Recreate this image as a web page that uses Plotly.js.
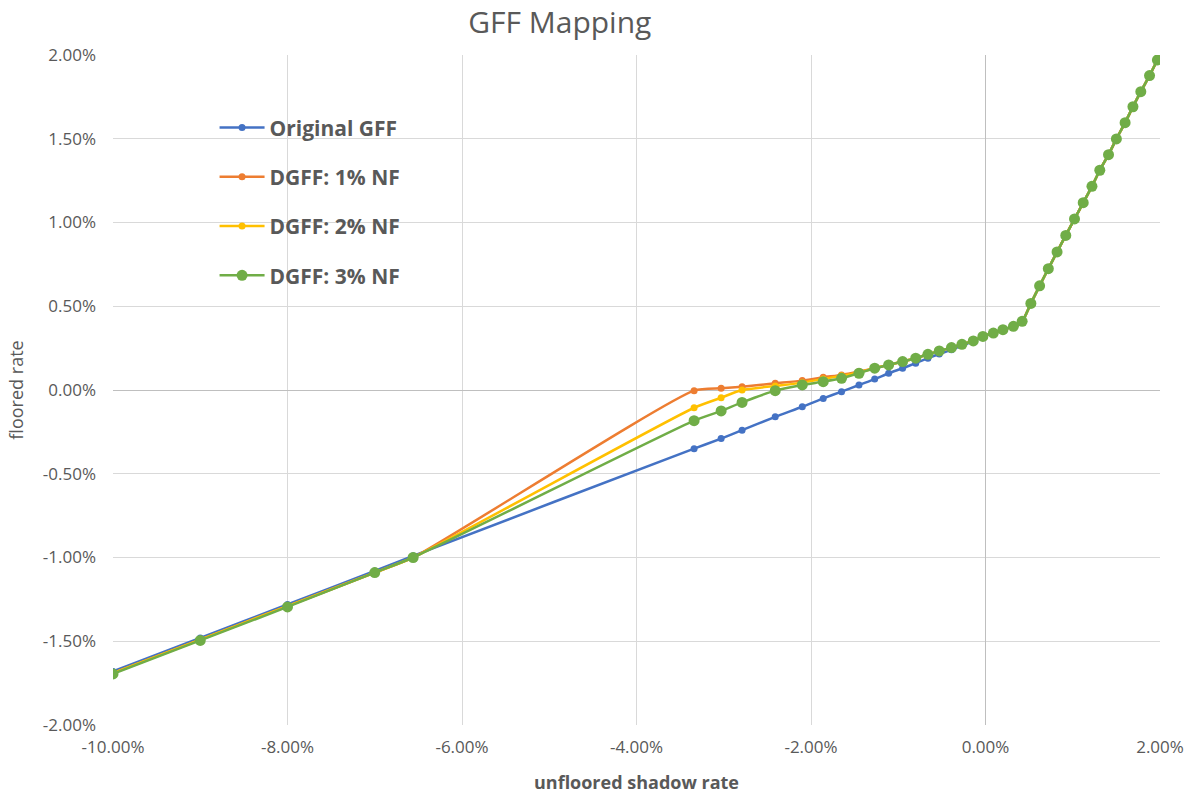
<!DOCTYPE html>
<html>
<head>
<meta charset="utf-8">
<script src="https://cdn.plot.ly/plotly-3.0.1.min.js"></script>
<style>
  html, body { margin: 0; padding: 0; background: #ffffff; }
  #chart { width: 1186px; height: 794px; }
</style>
</head>
<body>
<div id="chart"></div>
<script>
// unfloored shadow rate (%), shared by all series
const shadowRate = [-10, -9, -8, -7, -6.56, -3.34, -3.03, -2.79, -2.41, -2.10, -1.86, -1.65, -1.45, -1.27, -1.11, -0.95, -0.80, -0.66, -0.53, -0.39, -0.27, -0.14, -0.03, 0.09, 0.20, 0.32, 0.42, 0.52, 0.62, 0.72, 0.82, 0.92, 1.02, 1.12, 1.22, 1.31, 1.41, 1.50, 1.60, 1.69, 1.78, 1.88, 1.97];

// floored rate (%) per series
const originalGFF = [-1.68, -1.48, -1.28, -1.08, -0.99, -0.35, -0.29, -0.24, -0.16, -0.10, -0.05, -0.01, 0.03, 0.065, 0.10, 0.13, 0.16, 0.19, 0.215, 0.24, 0.265, 0.29, 0.32, 0.34, 0.36, 0.38, 0.41, 0.517, 0.622, 0.724, 0.824, 0.923, 1.021, 1.118, 1.216, 1.312, 1.405, 1.499, 1.596, 1.691, 1.781, 1.877, 1.97];
const dgff1 = [-1.69, -1.49, -1.29, -1.09, -1.00, -0.004, 0.01, 0.02, 0.04, 0.056, 0.076, 0.09, 0.11, 0.13, 0.15, 0.17, 0.19, 0.213, 0.233, 0.253, 0.273, 0.293, 0.32, 0.34, 0.36, 0.38, 0.41, 0.517, 0.622, 0.724, 0.824, 0.923, 1.021, 1.118, 1.216, 1.312, 1.405, 1.499, 1.596, 1.691, 1.781, 1.877, 1.97];
const dgff2 = [-1.69, -1.49, -1.29, -1.09, -1.00, -0.106, -0.046, 0.0, 0.024, 0.044, 0.066, 0.085, 0.105, 0.13, 0.15, 0.17, 0.19, 0.213, 0.233, 0.253, 0.273, 0.293, 0.32, 0.34, 0.36, 0.38, 0.41, 0.517, 0.622, 0.724, 0.824, 0.923, 1.021, 1.118, 1.216, 1.312, 1.405, 1.499, 1.596, 1.691, 1.781, 1.877, 1.97];
const dgff3 = [-1.695, -1.495, -1.295, -1.09, -1.00, -0.183, -0.125, -0.074, -0.004, 0.03, 0.05, 0.07, 0.10, 0.13, 0.15, 0.17, 0.19, 0.213, 0.233, 0.253, 0.273, 0.293, 0.32, 0.34, 0.36, 0.38, 0.41, 0.517, 0.622, 0.724, 0.824, 0.923, 1.021, 1.118, 1.216, 1.312, 1.405, 1.499, 1.596, 1.691, 1.781, 1.877, 1.97];

// axis ticks
const xTickVals = [-10, -8, -6, -4, -2, 0, 2];
const xTickText = ['-10.00%', '-8.00%', '-6.00%', '-4.00%', '-2.00%', '0.00%', '2.00%'];
const yTickVals = [-2, -1.5, -1, -0.5, 0, 0.5, 1, 1.5, 2];
const yTickText = ['-2.00%', '-1.50%', '-1.00%', '-0.50%', '0.00%', '0.50%', '1.00%', '1.50%', '2.00%'];

const seriesNames = ['Original GFF', 'DGFF: 1% NF', 'DGFF: 2% NF', 'DGFF: 3% NF'];
const seriesValues = [originalGFF, dgff1, dgff2, dgff3];
const seriesColors = ['#4472C4', '#ED7D31', '#FFC000', '#70AD47'];
const markerSizes = [7, 7, 7, 11];

const traces = seriesNames.map((name, i) => ({
  type: 'scatter',
  mode: 'lines+markers',
  name: name,
  legendgroup: 'g' + i,
  x: shadowRate,
  y: seriesValues[i],
  line: { color: seriesColors[i], width: 2.5, shape: 'spline', smoothing: 0.6 },
  marker: { color: seriesColors[i], size: markerSizes[i], line: { width: 0 } },
  hoverinfo: 'x+y+name'
}));

const fontFam = '"Open Sans", "Liberation Sans", sans-serif';
const grey = '#595959';

const layout = {
  width: 1186,
  height: 794,
  paper_bgcolor: '#ffffff',
  plot_bgcolor: '#ffffff',
  margin: { l: 113, r: 26, t: 55, b: 69 },
  font: { family: fontFam, color: grey, size: 16 },
  title: {
    text: 'GFF Mapping',
    font: { family: fontFam, size: 30, color: grey },
    x: 0.472, xanchor: 'center', xref: 'container',
    y: 0.972, yanchor: 'middle', yref: 'container'
  },
  xaxis: {
    range: [-10, 2],
    tickmode: 'array',
    tickvals: xTickVals,
    ticktext: xTickText,
    showgrid: true,
    gridcolor: '#D9D9D9',
    gridwidth: 1,
    zeroline: true,
    zerolinecolor: '#BFBFBF',
    zerolinewidth: 1,
    showline: false,
    ticks: '',
    ticklabelstandoff: 10,
    tickfont: { family: fontFam, size: 17, color: grey },
    title: { text: '<b>unfloored shadow rate</b>', font: { family: fontFam, size: 18, color: grey }, standoff: 22 },
    automargin: false
  },
  yaxis: {
    range: [-2, 2],
    tickmode: 'array',
    tickvals: yTickVals,
    ticktext: yTickText,
    showgrid: true,
    gridcolor: '#D9D9D9',
    gridwidth: 1,
    zeroline: true,
    zerolinecolor: '#BFBFBF',
    zerolinewidth: 1,
    showline: false,
    ticks: '',
    ticklabelstandoff: 16,
    tickfont: { family: fontFam, size: 17, color: grey },
    title: { text: 'floored rate', font: { family: fontFam, size: 18, color: grey }, standoff: 14 },
    automargin: false
  },
  legend: {
    x: 0.097, xanchor: 'left',
    y: 0.922, yanchor: 'top',
    bgcolor: 'rgba(0,0,0,0)',
    font: { family: fontFam, size: 21, color: grey, weight: 'bold' },
    traceorder: 'grouped',
    tracegroupgap: 19,
    itemwidth: 45
  },
  showlegend: true
};

Plotly.newPlot('chart', traces, layout, { displayModeBar: false, staticPlot: true });
</script>
</body>
</html>
